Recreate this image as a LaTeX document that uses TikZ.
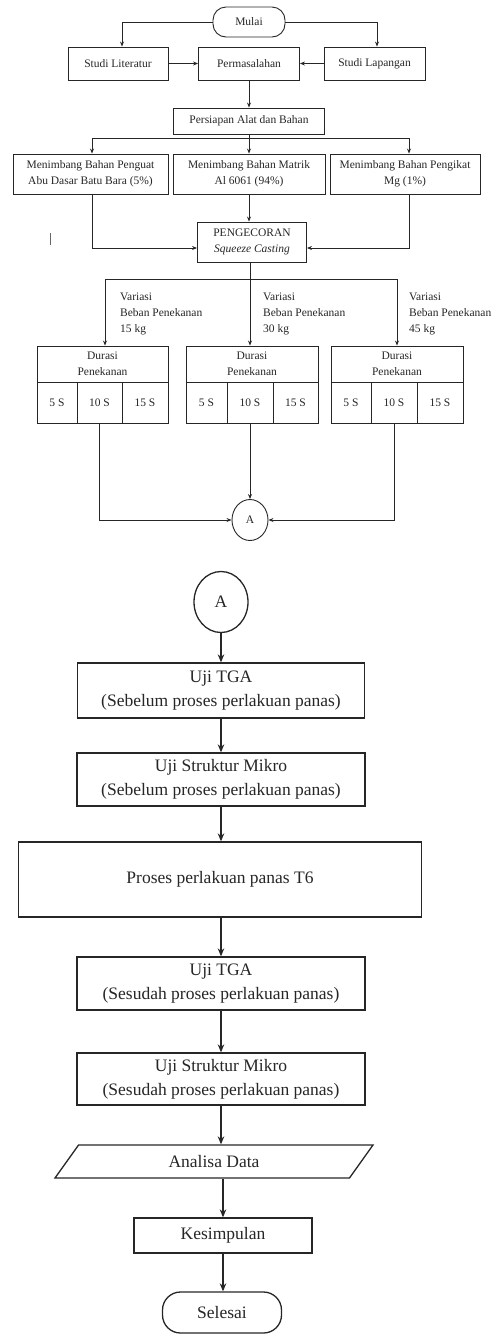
\documentclass[tikz,border=0pt]{standalone}
\usepackage{fontspec}
\setmainfont{Liberation Serif}
\usetikzlibrary{arrows.meta,shapes.geometric}
\begin{document}
\begin{tikzpicture}[x=1pt,y=-1pt,color=black!85,
    hurufkecil/.style={font=\fontsize{11.5}{16}\selectfont},
    hurufbesar/.style={font=\fontsize{17.5}{24}\selectfont},
    kotak/.style={draw, line width=0.9pt, hurufkecil, align=center, inner sep=0pt},
    kotakbesar/.style={draw, line width=1.3pt, hurufbesar, align=center, inner sep=0pt},
    terminal/.style={kotak, rounded corners=13pt},
    label/.style={hurufkecil, align=left, anchor=west, inner sep=0pt},
    panah/.style={-{Stealth[length=5pt,width=4pt]}, line width=0.8pt},
    panahbesar/.style={-{Stealth[length=8pt,width=6.5pt]}, line width=1.3pt}]
    \useasboundingbox (0,0) rectangle (501,1334);
    \node[terminal, minimum width=72, minimum height=30] (mulai) at (249,22) {Mulai};
    \node[kotak, minimum width=100, minimum height=33] (lit) at (118,63.5) {Studi Literatur};
    \node[kotak, minimum width=101, minimum height=33] (masalah) at (249,63.5) {Permasalahan};
    \node[kotak, minimum width=101, minimum height=33] (lap) at (374.5,63.5) {Studi Lapangan};
    \node[kotak, minimum width=151, minimum height=26] (persiapan) at (249,121) {Persiapan Alat dan Bahan};
    \node[kotak, minimum width=155, minimum height=40] (penguat) at (90.5,174) {Menimbang Bahan Penguat\\Abu Dasar Batu Bara (5\%)};
    \node[kotak, minimum width=152, minimum height=40] (matrik) at (249,174) {Menimbang Bahan Matrik\\Al 6061 (94\%)};
    \node[kotak, minimum width=150, minimum height=40] (pengikat) at (405,174) {Menimbang Bahan Pengikat\\Mg (1\%)};
    \node[kotak, minimum width=109, minimum height=40] (cor) at (252,242) {PENGECORAN\\\textit{Squeeze Casting}};
    \coordinate (cabang1) at (249,138);
    \coordinate (cabang2) at (250,279);
    \draw[panah] (mulai.west) -| ([xshift=4pt]lit.north);
    \draw[panah] (mulai.east) -| ([xshift=2.5pt]lap.north);
    \draw[panah] (lit) -- (masalah);
    \draw[panah] (lap) -- (masalah);
    \draw[panah] (masalah) -- (persiapan);
    \draw[panah] (persiapan) -- (matrik);
    \draw[panah] (cabang1) -| ([xshift=1.5pt]penguat.north);
    \draw[panah] (cabang1) -| ([xshift=4pt]pengikat.north);
    \draw[panah] (matrik) -- (matrik |- cor.north);
    \draw[panah] ([xshift=1.5pt]penguat.south) |- ([yshift=-6pt]cor.west);
    \draw[panah] ([xshift=4pt]pengikat.south) |- ([yshift=-6pt]cor.east);
    \draw[line width=0.6pt, black!60] (50,233) -- (50,245);
    \draw[line width=0.8pt] (cor.south -| cabang2) -- (cabang2);
    \node[label] (var1) at (120,314) {Variasi\\Beban Penekanan\\15 kg};
    \node[label] (var2) at (263,314) {Variasi\\Beban Penekanan\\30 kg};
    \node[label] (var3) at (409,314) {Variasi\\Beban Penekanan\\45 kg};
    \node[kotak, minimum width=131, minimum height=36] (durasi1) at (102.5,364) {Durasi\\Penekanan};
    \node[kotak, minimum width=40, minimum height=41] (d1a) at (57,402.5) {5 S};
    \node[kotak, minimum width=45, minimum height=41] (d1b) at (99.5,402.5) {10 S};
    \node[kotak, minimum width=46, minimum height=41] (d1c) at (145,402.5) {15 S};
    \node[kotak, minimum width=132, minimum height=36] (durasi2) at (252,364) {Durasi\\Penekanan};
    \node[kotak, minimum width=41, minimum height=41] (d2a) at (206.5,402.5) {5 S};
    \node[kotak, minimum width=46, minimum height=41] (d2b) at (250,402.5) {10 S};
    \node[kotak, minimum width=45, minimum height=41] (d2c) at (295.5,402.5) {15 S};
    \node[kotak, minimum width=132, minimum height=36] (durasi3) at (397,364) {Durasi\\Penekanan};
    \node[kotak, minimum width=40, minimum height=41] (d3a) at (351,402.5) {5 S};
    \node[kotak, minimum width=46, minimum height=41] (d3b) at (394,402.5) {10 S};
    \node[kotak, minimum width=46, minimum height=41] (d3c) at (440,402.5) {15 S};
    \draw[panah] (cabang2) -| ([xshift=2.5pt]durasi1.north);
    \draw[panah] (cabang2) -- (cabang2 |- durasi2.north);
    \draw[panah] (cabang2) -| (durasi3.north);
    \node[kotak, ellipse, minimum width=36, minimum height=41] (a1) at (250,520) {A};
    \draw[panah] (d1b.south) |- (a1.west);
    \draw[panah] (d2b) -- (a1);
    \draw[panah] (d3b.south) |- (a1.east);
    \node[kotakbesar, ellipse, minimum width=54, minimum height=61] (a2) at (221,602) {A};
    \node[kotakbesar, minimum width=287, minimum height=55] (tga1) at (221,690.5) {Uji TGA\\(Sebelum proses perlakuan panas)};
    \node[kotakbesar, minimum width=288, minimum height=53] (mikro1) at (221,779.5) {Uji Struktur Mikro\\(Sebelum proses perlakuan panas)};
    \node[kotakbesar, minimum width=403, minimum height=75] (proses) at (220,879.5) {Proses perlakuan panas T6};
    \node[kotakbesar, minimum width=288, minimum height=53] (tga2) at (221,983.5) {Uji TGA\\(Sesudah proses perlakuan panas)};
    \node[kotakbesar, minimum width=288, minimum height=52] (mikro2) at (221,1079) {Uji Struktur Mikro\\(Sesudah proses perlakuan panas)};
    \node[kotakbesar, trapezium, trapezium left angle=27.6, trapezium right angle=152.4, trapezium stretches body, minimum width=318, minimum height=33] (analisa) at (214,1161.5) {Analisa Data};
    \node[kotakbesar, minimum width=178, minimum height=35] (kes) at (223,1235.5) {Kesimpulan};
    \node[kotakbesar, rounded corners=18pt, minimum width=119, minimum height=41] (selesai) at (222,1312.5) {Selesai};
    \draw[panahbesar] (a2) -- (tga1);
    \draw[panahbesar] (tga1) -- (mikro1);
    \draw[panahbesar] (mikro1) -- (mikro1 |- proses.north);
    \draw[panahbesar] (proses.south -| tga2) -- (tga2);
    \draw[panahbesar] (tga2) -- (mikro2);
    \draw[panahbesar] (mikro2) -- (mikro2 |- analisa.north);
    \draw[panahbesar] (kes |- analisa.south) -- (kes);
    \draw[panahbesar] (kes) -- (kes |- selesai.north);
\end{tikzpicture}
\end{document}
